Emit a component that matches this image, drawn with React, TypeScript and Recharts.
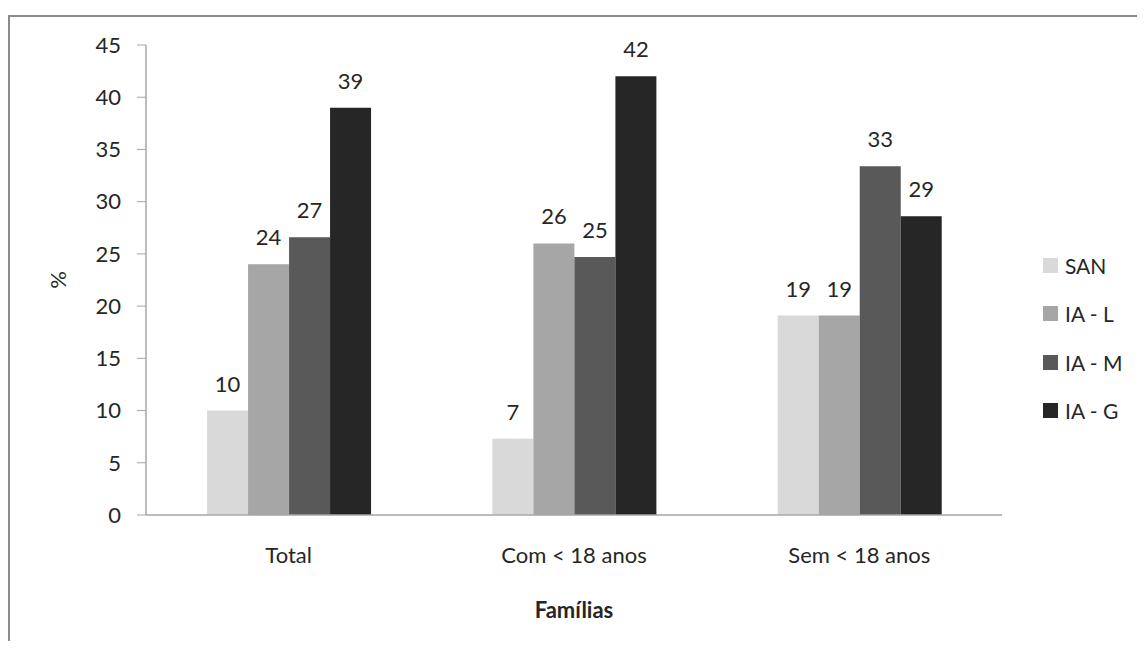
import React from 'react';
import { BarChart, Bar, XAxis, YAxis, LabelList, Label } from 'recharts';

const categories = ['Total', 'Com < 18 anos', 'Sem < 18 anos'];
const san = [10, 7.3, 19.1];
const iaL = [24, 26, 19.1];
const iaM = [26.6, 24.7, 33.4];
const iaG = [39, 42, 28.6];
const yTicks = [0, 5, 10, 15, 20, 25, 30, 35, 40, 45];

const seriesList = [
  { key: 'san', name: 'SAN', color: '#d9d9d9' },
  { key: 'iaL', name: 'IA - L', color: '#a6a6a6' },
  { key: 'iaM', name: 'IA - M', color: '#595959' },
  { key: 'iaG', name: 'IA - G', color: '#262626' },
];

const data = categories.map((cat, i) => ({
  cat,
  san: san[i],
  iaL: iaL[i],
  iaM: iaM[i],
  iaG: iaG[i],
}));

const FONT = 'Lato, "Open Sans", sans-serif';
const TEXT = '#262626';
const FS = 22;

function LegendBox() {
  return (
    <div
      style={{
        position: 'absolute',
        left: 1043,
        top: 241,
        width: 100,
        fontFamily: FONT,
        fontSize: 21,
        color: TEXT,
      }}
    >
      {seriesList.map((s) => (
        <div key={s.key} style={{ display: 'flex', alignItems: 'center', height: 48.5 }}>
          <span style={{ width: 15, height: 15, background: s.color, marginRight: 7, display: 'inline-block' }} />
          <span>{s.name}</span>
        </div>
      ))}
    </div>
  );
}

export default function App() {
  return (
    <div style={{ position: 'relative', width: 1145, height: 649, margin: -8, background: '#fff', overflow: 'hidden' }}>
      <div
        style={{
          position: 'absolute',
          left: 8,
          top: 15,
          width: 1145,
          height: 649,
          borderTop: '2px solid #8c8c8c',
          borderLeft: '2px solid #8c8c8c',
        }}
      />
      <BarChart
        width={1145}
        height={649}
        data={data}
        margin={{ top: 45, right: 143, bottom: 133, left: 0 }}
        barCategoryGap="21.4%"
        barGap={0}
        style={{ position: 'absolute', left: 0, top: 0 }}
      >
        <XAxis
          dataKey="cat"
          height={1}
          axisLine={{ stroke: '#a6a6a6', strokeWidth: 1.5 }}
          tickLine={false}
          tickSize={0}
          tickMargin={32}
          tick={{ fill: TEXT, fontSize: FS, fontFamily: FONT }}
        >
          <Label
            content={({ viewBox }: any) => (
              <text
                x={viewBox.x + viewBox.width / 2}
                y={618}
                textAnchor="middle"
                fill={TEXT}
                fontSize={FS}
                fontWeight="bold"
                fontFamily={FONT}
              >
                Famílias
              </text>
            )}
          />
        </XAxis>
        <YAxis
          width={146}
          domain={[0, 45]}
          ticks={yTicks}
          interval={0}
          axisLine={{ stroke: '#a6a6a6', strokeWidth: 1.5 }}
          tickLine={{ stroke: '#a6a6a6' }}
          tickSize={9}
          tickMargin={16}
          tick={{ fill: TEXT, fontSize: FS, fontFamily: FONT }}
        >
          <Label
            content={() => (
              <text
                x={57}
                y={280}
                transform="rotate(-90 57 280)"
                textAnchor="middle"
                dominantBaseline="central"
                fill={TEXT}
                fontSize={FS}
                fontFamily={FONT}
              >
                %
              </text>
            )}
          />
        </YAxis>
        {seriesList.map((s) => (
          <Bar key={s.key} dataKey={s.key} name={s.name} fill={s.color} isAnimationActive={false}>
            <LabelList
              dataKey={s.key}
              position="top"
              offset={19}
              formatter={(v: any) => Math.round(v)}
              style={{ fill: TEXT, fontSize: FS, fontFamily: FONT }}
            />
          </Bar>
        ))}
      </BarChart>
      <LegendBox />
    </div>
  );
}
